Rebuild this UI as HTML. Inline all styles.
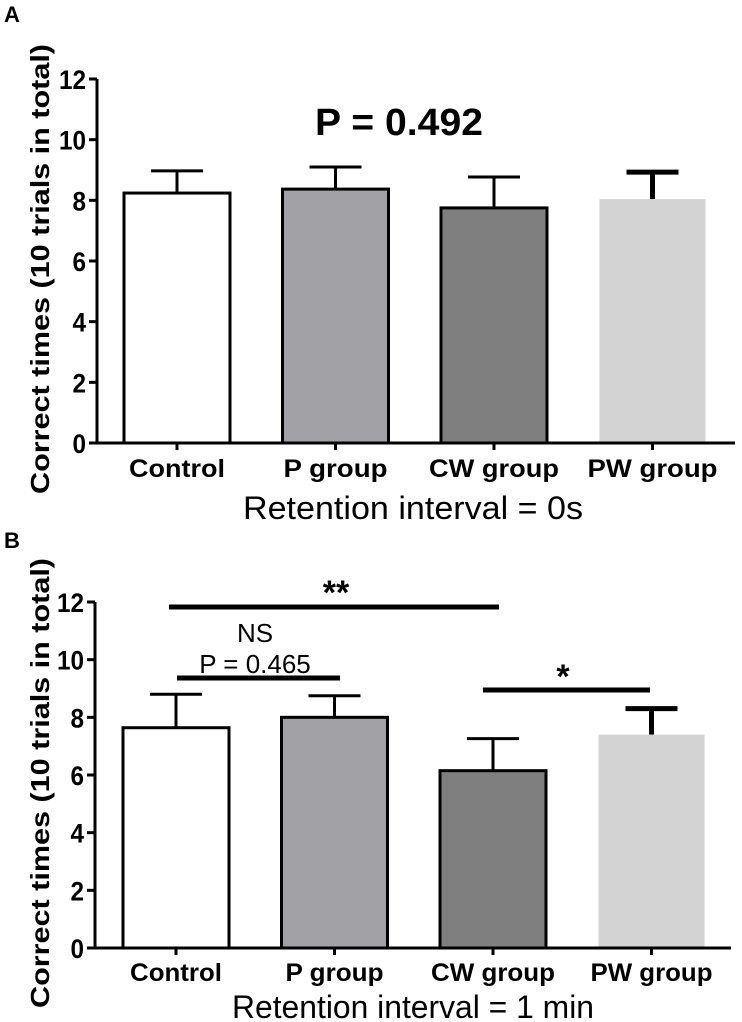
<!DOCTYPE html>
<html><head><meta charset="utf-8"><style>
html,body{margin:0;padding:0;background:#fff;}
svg{display:block;font-family:"Liberation Sans",Arial,sans-serif;}
</style></head><body>
<svg id="chart" width="742" height="1022" viewBox="0 0 742 1022" xmlns="http://www.w3.org/2000/svg"></svg>
<script>
const categories = ["Control","P group","CW group","PW group"];
const meansA = [8.24, 8.37, 7.75, 8.04];
const errA = [8.97, 9.1, 8.77, 8.93];
const meansB = [7.64, 8.0, 6.15, 7.4];
const errB = [8.8, 8.75, 7.26, 8.3];
const yTicks = [0, 2, 4, 6, 8, 10, 12];
const fills = ["#ffffff", "#a2a2a6", "#7f7f7f", "#d3d3d3"];

const svg = document.getElementById('chart');
const NS = 'http://www.w3.org/2000/svg';
function mk(tag, attrs, parent, text) {
  const e = document.createElementNS(NS, tag);
  for (const k in attrs) e.setAttribute(k, attrs[k]);
  if (text !== undefined) e.textContent = text;
  (parent || svg).appendChild(e);
  return e;
}

function panel(p) {
  const g = mk('g', {});
  
  
  const y = v => p.y0 - v * (p.y0 - p.y12) / 12;
  const xc = i => p.firstX + i * p.step;
  const L = mk('text', {x: 4, y: p.letterY, 'font-size': 22, 'font-weight': 'bold'}, g, p.letter);
  
  
  categories.forEach((c, i) => {
    const top = y(p.means[i]);
    const eb = mk('line', {x1: xc(i), x2: xc(i), y1: top, y2: y(p.err[i]), stroke: '#000', 'stroke-width': i === 3 ? 5 : 3}, g);
    
    
    const cap = mk('line', {x1: xc(i) - 26, x2: xc(i) + 26, y1: y(p.err[i]), y2: y(p.err[i]), stroke: '#000', 'stroke-width': i === 3 ? 5 : 3}, g);
    
    
    const r = mk('rect', {x: xc(i) - p.bw / 2, y: top, width: p.bw, height: p.y0 - top, fill: fills[i], stroke: i === 3 ? 'none' : '#000', 'stroke-width': 3}, g);
    
    
    const tk = mk('line', {x1: xc(i), x2: xc(i), y1: p.y0, y2: p.y0 + 7, stroke: '#000', 'stroke-width': 3}, g);
    
    
    const t = mk('text', {x: xc(i), y: p.catY, 'text-anchor': 'middle', 'font-size': 25, 'font-weight': 'bold', textLength: p.catW[i], lengthAdjust: 'spacingAndGlyphs'}, g, c);
    
    
  });
  const ya = mk('line', {x1: p.ax, x2: p.ax, y1: p.y12, y2: p.y0 + 1.5, stroke: '#000', 'stroke-width': 3}, g);
  
  
  const xa = mk('line', {x1: p.ax - 1.5, x2: p.axEnd, y1: p.y0, y2: p.y0, stroke: '#000', 'stroke-width': 3}, g);
  
  
  yTicks.forEach(v => {
    const tk = mk('line', {x1: p.ax - 8, x2: p.ax, y1: y(v), y2: y(v), stroke: '#000', 'stroke-width': 3}, g);
    
    
    const t = mk('text', {x: p.ax - 11, y: y(v) + 10, 'text-anchor': 'end', 'font-size': 27, 'font-weight': 'bold', transform: `translate(${(p.ax - 11) * 0.1},0) scale(0.9,1)`}, g, String(v));
    
    
  });
  const yt = mk('text', {x: 0, y: 0, transform: `translate(${p.ytX},${(p.y0 + p.y12) / 2 + 8}) rotate(-90)`, 'text-anchor': 'middle', 'font-size': 26, 'font-weight': 'bold', textLength: 450, lengthAdjust: 'spacingAndGlyphs'}, g, 'Correct times (10 trials in total)');
  
  
  const xt = mk('text', {x: 413, y: p.titleY, 'text-anchor': 'middle', 'font-size': 32, textLength: p.titleW, lengthAdjust: 'spacingAndGlyphs'}, g, p.title);
  
  
  return {g, y, xc};
}

const A = panel({name: 'panel-a', letter: 'A', letterY: 22, means: meansA, err: errA, y0: 443, y12: 79, ax: 97, axEnd: 735,
  firstX: 177, step: 158.5, bw: 106, catY: 477, catW: [96, 104, 130, 130], ytX: 49, titleY: 519, titleW: 340, title: 'Retention interval = 0s'});
const pA = mk('text', {x: 315, y: 135, 'font-size': 38, 'font-weight': 'bold', textLength: 168, lengthAdjust: 'spacingAndGlyphs'}, A.g, 'P = 0.492');



const B = panel({name: 'panel-b', letter: 'B', letterY: 548, means: meansB, err: errB, y0: 948, y12: 602, ax: 95, axEnd: 731,
  firstX: 176, step: 158.5, bw: 106, catY: 981, catW: [92, 98, 124, 122], ytX: 49, titleY: 1018, titleW: 362, title: 'Retention interval = 1 min'});
function sig(x1, x2, yy, label, lx, ly, fs, bold, nm) {
  const l = mk('line', {x1, x2, y1: yy, y2: yy, stroke: '#000', 'stroke-width': 5}, B.g);
  
  
  const t = mk('text', {x: lx, y: ly, 'text-anchor': 'middle', 'font-size': fs, 'font-weight': bold ? 'bold' : 'normal'}, B.g, label);
  
  
}
sig(169, 499, 607, '**', 336, 604, 34, true, 'sig-control-cw');
sig(177, 340, 678, 'P = 0.465', 255, 673, 26, false, 'sig-control-p');
const ns = mk('text', {x: 255, y: 642, 'text-anchor': 'middle', 'font-size': 26}, B.g, 'NS');


sig(483, 650, 690, '*', 563, 688, 34, true, 'sig-cw-pw');
</script>
</body></html>
